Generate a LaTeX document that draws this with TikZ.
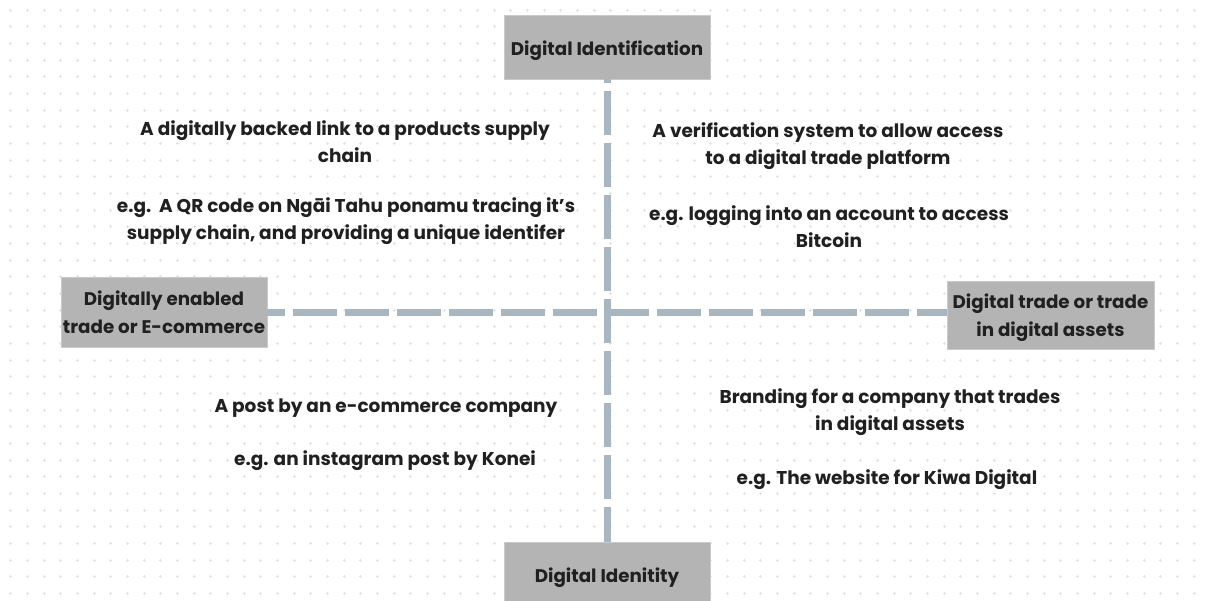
\documentclass[tikz,border=0pt]{standalone}
\usepackage{fontspec}
\setmainfont{Poppins}
\definecolor{boxgray}{HTML}{B4B4B4}
\definecolor{boxedge}{HTML}{CACACA}
\definecolor{axisblue}{HTML}{A8B6C2}
\definecolor{gridgray}{HTML}{E2E2E2}
\definecolor{ink}{HTML}{202020}
\begin{document}
\begin{tikzpicture}[x=1pt,y=-1pt,
  catbox/.style={fill=boxgray,draw=boxedge,line width=0.8pt,text=ink,align=center,
    inner sep=0pt,font=\fontsize{18.3}{28}\selectfont\bfseries},
  oneline/.style={text height=17pt,text depth=0pt},
  quad/.style={text=ink,align=center,inner sep=0pt,font=\fontsize{18.5}{27}\selectfont\bfseries},
  axisline/.style={axisblue,line width=7pt,dash pattern=on 44pt off 8pt}]
\useasboundingbox (0,0) rectangle (1206,600);
\clip (0,0) rectangle (1206,600);
\fill[white] (0,0) rectangle (1206,600);
% dotted grid
\draw[gridgray,line width=0.7pt]
  \foreach \i in {0,...,72}{ \foreach \j in {0,...,35}{
    ({10.7+16.667*\i-1.5},{10+16.667*\j}) -- ({10.7+16.667*\i+1.5},{10+16.667*\j})
    ({10.7+16.667*\i},{10+16.667*\j-1.5}) -- ({10.7+16.667*\i},{10+16.667*\j+1.5}) }};
% category boxes
\node[catbox,oneline,minimum width=206pt,minimum height=64pt] (top) at (607,47) {Digital Identification};
\node[catbox,oneline,minimum width=206pt,minimum height=64pt] (bot) at (607,574) {Digital Idenitity};
\node[catbox,minimum width=206pt,minimum height=70pt] (left) at (164,312) {Digitally enabled\\trade or E-commerce};
\node[catbox,text depth=0pt,minimum width=207pt,minimum height=68pt] (right) at (1050.5,315) {Digital trade or trade\\in digital assets};
% axes
\draw[axisline,dash phase=40pt] (top.south) -- (bot.north);
\draw[axisline,dash phase=26pt] (left.east) -- (left.east -| right.west);
% quadrant texts
\node[quad] (q1a) at (345,142) {A digitally backed link to a products supply\\chain};
\node[quad] (q1b) at (346,221) {e.g.\ \ A QR code on Ngāi Tahu ponamu tracing it’s\\supply chain, and providing a unique identifer};
\node[quad] (q2a) at (828,146) {A verification system to allow access\\to a digital trade platform};
\node[quad] (q2b) at (829,227) {e.g. logging into an account to access\\Bitcoin};
\node[quad] (q3a) at (386,408) {A post by an e-commerce company};
\node[quad] (q3b) at (385,461) {e.g. an instagram post by Konei};
\node[quad] (q4a) at (890,412) {Branding for a company that trades\\in digital assets};
\node[quad] (q4b) at (887,480) {e.g. The website for Kiwa Digital};
\end{tikzpicture}
\end{document}
